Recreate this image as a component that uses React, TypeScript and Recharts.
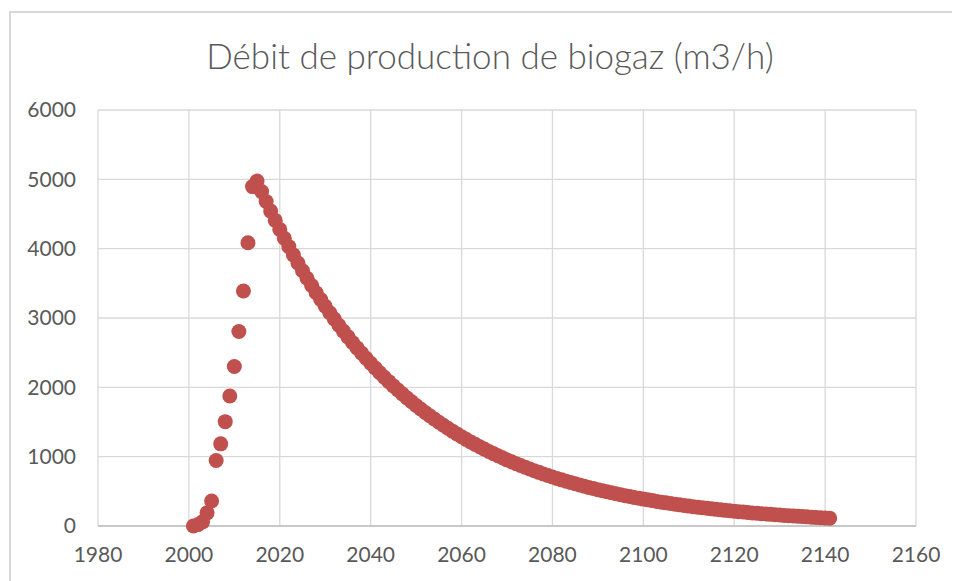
import React from 'react';
import { ScatterChart, Scatter, XAxis, YAxis, CartesianGrid } from 'recharts';

// années 2001 -> 2141, un point par an
const firstYear = 2001;

const debitBiogaz = [
  0, 20, 60, 190, 360, 945, 1185, 1505, 1875, 2300, 2805, 3390, 4085, 4895,
  4975, 4823, 4681, 4542, 4408, 4278, 4151, 4029, 3910, 3794,
  3682, 3573, 3468, 3365, 3266, 3169, 3075, 2985, 2896, 2811,
  2728, 2647, 2569, 2493, 2419, 2348, 2278, 2211, 2146, 2082,
  2021, 1961, 1903, 1847, 1792, 1739, 1688, 1638, 1590, 1543,
  1497, 1453, 1410, 1368, 1328, 1288, 1250, 1213, 1178, 1143,
  1109, 1076, 1044, 1013, 984, 954, 926, 899, 872, 847,
  822, 797, 774, 751, 729, 707, 686, 666, 646, 627,
  609, 591, 573, 556, 540, 524, 508, 493, 479, 465,
  451, 438, 425, 412, 400, 388, 377, 366, 355, 344,
  334, 324, 315, 305, 296, 287, 279, 271, 263, 255,
  247, 240, 233, 226, 219, 213, 207, 201, 195, 189,
  183, 178, 173, 168, 163, 158, 153, 149, 144, 140,
  136, 132, 128, 124, 120, 117, 113,
];

const xTicks = [1980, 2000, 2020, 2040, 2060, 2080, 2100, 2120, 2140, 2160];
const yTicks = [0, 1000, 2000, 3000, 4000, 5000, 6000];

const data = debitBiogaz.map((v, i) => ({ annee: firstYear + i, debit: v }));

const font = 'Lato, "Open Sans", sans-serif';

const Dot = (props: any) => (
  <circle cx={props.cx} cy={props.cy} r={7.5} fill="#C0504D" />
);

export default function App() {
  return (
    <div style={{ position: 'relative', width: 952, height: 573, fontFamily: font }}>
      <div
        style={{
          position: 'absolute',
          left: 1,
          top: 3,
          right: 0,
          bottom: 0,
          borderTop: '2px solid #d9d9d9',
          borderLeft: '2px solid #d9d9d9',
        }}
      />
      <div
        style={{
          position: 'absolute',
          left: 0,
          width: 964,
          top: 27,
          textAlign: 'center',
          fontSize: 35,
          fontWeight: 300,
          color: '#595959',
          lineHeight: '40px',
        }}
      >
        Débit de production de biogaz (m3/h)
      </div>
      <ScatterChart
        width={952}
        height={573}
        margin={{ top: 102, right: 44, bottom: 0, left: 0 }}
        style={{ position: 'absolute', left: 0, top: 0 }}
      >
        <CartesianGrid stroke="#d9d9d9" strokeWidth={1.3} />
        <XAxis
          type="number"
          dataKey="annee"
          domain={[1980, 2160]}
          ticks={xTicks}
          height={55}
          tickSize={0}
          tickMargin={21}
          axisLine={{ stroke: '#bfbfbf', strokeWidth: 1.5 }}
          tick={{ fill: '#595959', fontSize: 21, fontFamily: font }}
        />
        <YAxis
          type="number"
          dataKey="debit"
          domain={[0, 6000]}
          ticks={yTicks}
          width={90}
          tickSize={0}
          tickMargin={22}
          axisLine={false}
          tick={{ fill: '#595959', fontSize: 21, fontFamily: font }}
        />
        <Scatter data={data} shape={Dot} isAnimationActive={false} />
      </ScatterChart>
    </div>
  );
}
